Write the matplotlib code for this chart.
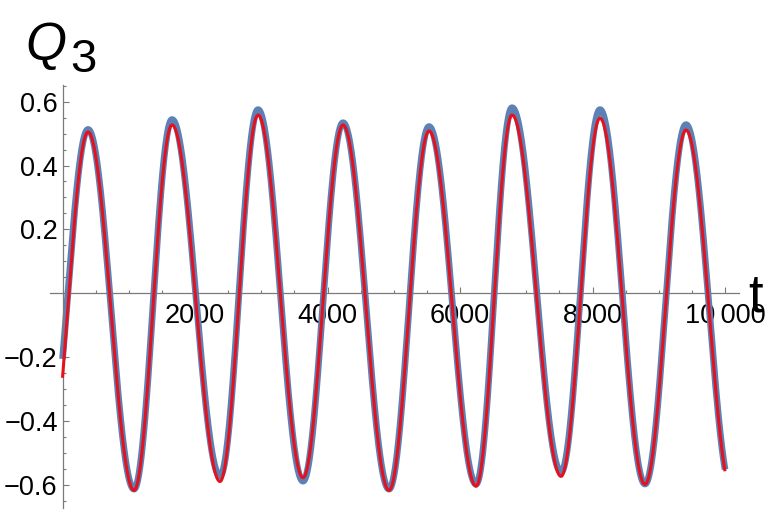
import numpy as np
import matplotlib.pyplot as plt
from matplotlib.ticker import MultipleLocator

plt.rcParams['font.family'] = ['Liberation Sans', 'DejaVu Sans']

# turning points of the two curves
# first and last entry sit just outside 0..10000, they only shape the ends
t_ext = [-219, 385, 1079, 1653, 2377, 2951, 3630, 4234, 4928,
         5532, 6242, 6785, 7525, 8113, 8792, 9411, 10110]
q_data = [-0.50, 0.513, -0.613, 0.544, -0.572, 0.575, -0.588, 0.534, -0.613,
          0.522, -0.597, 0.581, -0.559, 0.575, -0.597, 0.528, -0.62]
q_fit = [-0.58, 0.505, -0.617, 0.527, -0.589, 0.558, -0.577, 0.527, -0.617,
         0.508, -0.604, 0.558, -0.573, 0.548, -0.598, 0.511, -0.625]

t_range = (0, 10000)
x_ticks = [2000, 4000, 6000, 8000, 10000]
x_labels = ["2000", "4000", "6000", "8000", "10\u2009000"]
y_ticks = [-0.6, -0.4, -0.2, 0.2, 0.4, 0.6]
y_labels = ["\u22120.6", "\u22120.4", "\u22120.2", "0.2", "0.4", "0.6"]

BLUE = '#5E81B5'
RED = '#E3121E'
AXIS = '#7a7a7a'


def half_waves(t, t_ext, v_ext):
    '''
    join the turning points with half cosine waves
    '''
    t_ext = np.asarray(t_ext, dtype=float)
    v_ext = np.asarray(v_ext, dtype=float)
    k = np.clip(np.searchsorted(t_ext, t, side='right') - 1, 0, len(t_ext) - 2)
    frac = (t - t_ext[k]) / (t_ext[k + 1] - t_ext[k])
    w = (1 - np.cos(np.pi * frac)) / 2
    return v_ext[k] + (v_ext[k + 1] - v_ext[k]) * w


fig = plt.figure(figsize=(7.68, 5.13), dpi=100)
ax = fig.add_axes([50 / 768, 5 / 513, 689 / 768, 423 / 513])

t = np.linspace(t_range[0], t_range[1], 3001)
ax.plot(t, half_waves(t, t_ext, q_data), color=BLUE, lw=4.8, solid_capstyle='butt', zorder=2)
ax.plot(t, half_waves(t, t_ext, q_fit), color=RED, lw=2.2, solid_capstyle='butt', zorder=3)

ax.set_xlim(-189, 10211)
ax.set_ylim(-0.672, 0.652)

for side in ['top', 'right']:
    ax.spines[side].set_visible(False)
for side in ['left', 'bottom']:
    ax.spines[side].set_position(('data', 0))
    ax.spines[side].set_color(AXIS)
    ax.spines[side].set_linewidth(0.9)

ax.set_xticks(x_ticks)
ax.set_xticklabels(x_labels)
ax.set_yticks(y_ticks)
ax.set_yticklabels(y_labels)
ax.xaxis.set_minor_locator(MultipleLocator(500))
ax.yaxis.set_minor_locator(MultipleLocator(0.05))
ax.tick_params(which='both', direction='in', color=AXIS, width=0.8, labelsize=19.5)
ax.tick_params(which='major', length=4)
ax.tick_params(which='minor', length=2.2)
ax.tick_params(axis='x', pad=7)
ax.tick_params(axis='y', pad=3.5)

# axis labels, Mathematica style: t at the end of the axis, Q_3 over the top
ax.text(1.013, (0.672 - 0.056) / 1.324, "t", transform=ax.transAxes, fontsize=38,
        ha='left', va='baseline', clip_on=False)
fig.text(25 / 768, 453 / 513, "Q", fontsize=38, style='italic', ha='left', va='baseline')
fig.text(70 / 768, 441 / 513, "3", fontsize=34, ha='left', va='baseline')

fig.savefig("out.png", dpi=100)
